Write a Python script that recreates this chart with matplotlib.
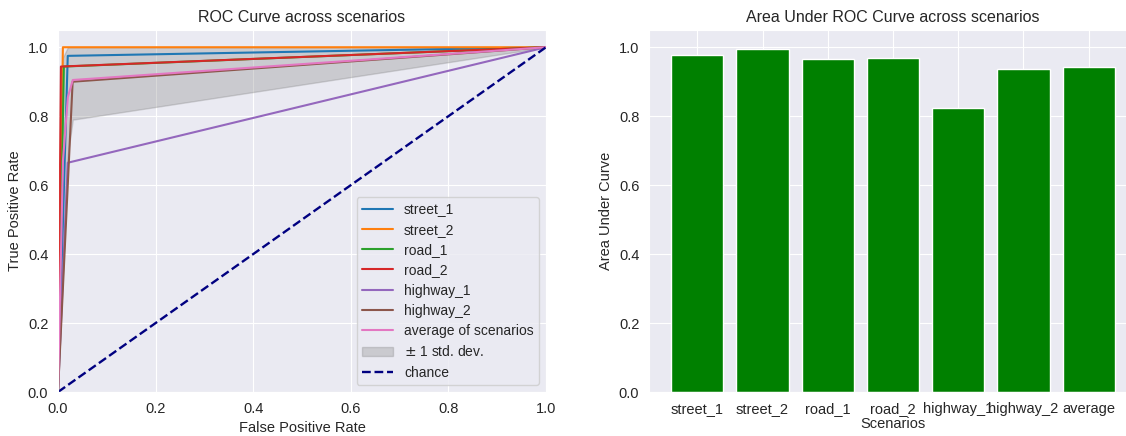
import matplotlib
matplotlib.use("Agg")
from matplotlib import pyplot as plt
import seaborn as sns

# ROC operating points per scenario (binary classifier -> one point each)
scenarios = ["street_1", "street_2", "road_1", "road_2", "highway_1", "highway_2"]
roc_fpr = [0.02, 0.01, 0.012, 0.006, 0.02, 0.03]
roc_tpr = [0.975, 1.0, 0.944, 0.944, 0.665, 0.90]

# average curve and +/- 1 std band
avg_fpr = [0.0, 0.0101, 0.0202, 0.0303, 1.0]
avg_tpr = [0.0, 0.67, 0.855, 0.905, 1.0]
std_lower = [0.0, 0.37, 0.69, 0.79, 1.0]
std_upper = [0.0, 0.97, 1.0, 1.0, 1.0]

# AUC bars
auc_labels = ["street_1", "street_2", "road_1", "road_2", "highway_1", "highway_2", "average"]
auc_values = [0.978, 0.995, 0.966, 0.969, 0.825, 0.936, 0.943]

sns.set_style("darkgrid")
plt.rcParams["font.family"] = ["Liberation Sans", "DejaVu Sans"]

W, H = 1126, 436
fig = plt.figure(figsize=(W / 100, H / 100), dpi=100)
ax1 = fig.add_axes([58 / W, 1 - 392 / H, 488 / W, 362 / H])
ax2 = fig.add_axes([649 / W, 1 - 392 / H, 488 / W, 362 / H])

# left: ROC curves
for i, name in enumerate(scenarios):
    ax1.plot([0, roc_fpr[i], 1], [0, roc_tpr[i], 1], color="C%d" % i, lw=1.5, label=name)
ax1.plot(avg_fpr, avg_tpr, color="C6", lw=1.5, label="average of scenarios")
ax1.fill_between(avg_fpr, std_lower, std_upper, color="grey", alpha=0.3, label=r"$\pm$ 1 std. dev.")
ax1.plot([0, 1], [0, 1], color="navy", lw=1.7, linestyle="--", label="chance")
ax1.set_xlim(0, 1)
ax1.set_ylim(0, 1.05)
ax1.set_title("ROC Curve across scenarios", fontsize=11.5)
ax1.set_xlabel("False Positive Rate", fontsize=10.5, labelpad=4)
ax1.set_ylabel("True Positive Rate", fontsize=10.5)
ax1.tick_params(labelsize=10.5)
ax1.legend(loc="lower right", fontsize=10, handlelength=2.2, labelspacing=0.45)

# right: AUC bars
ax2.bar(auc_labels, auc_values, width=0.8, color="green", edgecolor="white")
ax2.set_ylim(0, 1.05)
ax2.set_title("Area Under ROC Curve across scenarios", fontsize=11.5)
ax2.set_xlabel("Scenarios", fontsize=10.5, labelpad=1)
ax2.set_ylabel("Area Under Curve", fontsize=10.5)
ax2.tick_params(labelsize=10.5)

fig.savefig("out.png", dpi=100)
